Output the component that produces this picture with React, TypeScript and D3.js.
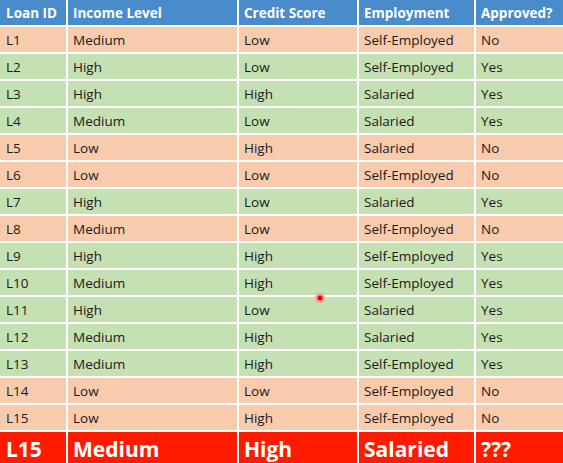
import { useEffect, useRef } from 'react';
import * as d3 from 'd3';

const headers = ['Loan ID', 'Income Level', 'Credit Score', 'Employment', 'Approved?'];
const loanIds = ['L1', 'L2', 'L3', 'L4', 'L5', 'L6', 'L7', 'L8', 'L9', 'L10', 'L11', 'L12', 'L13', 'L14', 'L15'];
const income = ['Medium', 'High', 'High', 'Medium', 'Low', 'Low', 'High', 'Medium', 'High', 'Medium', 'High', 'Medium', 'Medium', 'Low', 'Low'];
const credit = ['Low', 'Low', 'High', 'Low', 'High', 'Low', 'Low', 'Low', 'High', 'High', 'Low', 'High', 'High', 'Low', 'High'];
const employment = ['Self-Employed', 'Self-Employed', 'Salaried', 'Salaried', 'Salaried', 'Self-Employed', 'Salaried', 'Self-Employed', 'Self-Employed', 'Self-Employed', 'Salaried', 'Salaried', 'Self-Employed', 'Self-Employed', 'Self-Employed'];
const approved = ['No', 'Yes', 'Yes', 'Yes', 'No', 'No', 'Yes', 'No', 'Yes', 'Yes', 'Yes', 'Yes', 'Yes', 'No', 'No'];
const queryRow = ['L15', 'Medium', 'High', 'Salaried', '???'];

const colEdges = [0, 67, 238, 358, 475, 563];

const App = () => {
  const ref = useRef<SVGSVGElement>(null);

  useEffect(() => {
    if (!ref.current) return;
    const svg = d3.select(ref.current);
    svg.selectAll('*').remove();
    const W = 563, H = 463, headH = 27, rowH = 27;
    const font = 'Open Sans, Noto Sans, sans-serif';

    const y = d3.scaleBand<number>().domain(d3.range(loanIds.length)).range([headH, headH + rowH * loanIds.length]).padding(0);

    svg.append('rect').attr('width', W).attr('height', H).attr('fill', '#fff');

    // header
    svg.append('rect').attr('width', W).attr('height', headH - 2).attr('fill', '#4a8bcc');
    headers.forEach((h, c) => {
      svg.append('text').attr('x', colEdges[c] + 6).attr('y', 18).attr('fill', '#fff')
        .attr('font-family', font).attr('font-weight', 'bold').attr('font-size', 13.5).text(h);
    });

    const rows = loanIds.map((id, i) => [id, income[i], credit[i], employment[i], approved[i]]);
    const g = svg.selectAll('g.row').data(rows).enter().append('g')
      .attr('transform', (_d, i) => `translate(0,${y(i)})`);
    g.append('rect').attr('width', W).attr('height', rowH - 2)
      .attr('fill', (d) => (d[4] === 'Yes' ? '#c5e0b3' : '#f8cbad'));
    g.selectAll('text').data((d) => d).enter().append('text')
      .attr('x', (_d, c) => colEdges[c] + 6).attr('y', 18)
      .attr('fill', '#1a1a1a').attr('font-family', font).attr('font-size', 13.5)
      .text((d) => d);

    // query row
    const qy = headH + rowH * loanIds.length;
    svg.append('rect').attr('y', qy).attr('width', W).attr('height', H - qy).attr('fill', '#ff1a00');
    queryRow.forEach((t, c) => {
      svg.append('text').attr('x', colEdges[c] + 6).attr('y', qy + 25).attr('fill', '#fff')
        .attr('font-family', font).attr('font-weight', 'bold').attr('font-size', 21).text(t);
    });

    // column separators
    colEdges.slice(1, -1).forEach((x) => {
      svg.append('rect').attr('x', x - 1).attr('y', 0).attr('width', 2).attr('height', H).attr('fill', '#fff');
    });

    // cursor dot
    svg.append('circle').attr('cx', 320).attr('cy', 298).attr('r', 5).attr('fill', '#f4a0a0');
    svg.append('circle').attr('cx', 320).attr('cy', 298).attr('r', 2.5).attr('fill', '#e00');
  }, []);

  return <svg ref={ref} width={563} height={463} style={{ position: 'absolute', left: 0, top: 0 }} />;
};

export default App;
